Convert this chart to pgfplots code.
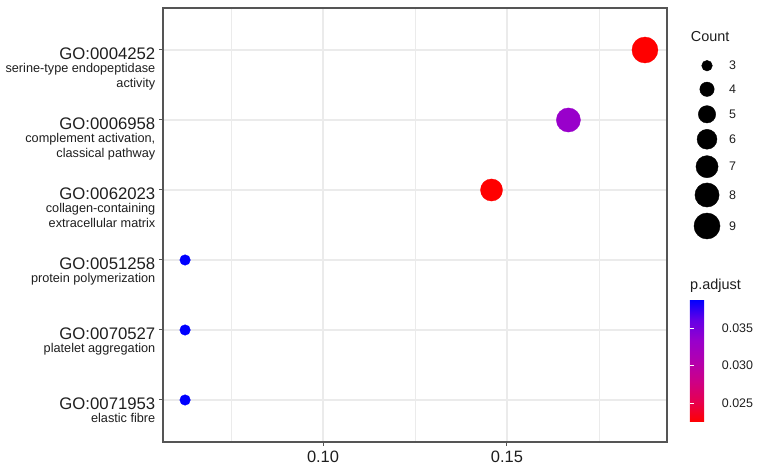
\documentclass[border=0pt]{standalone}
\usepackage{fontspec}
\setmainfont{Liberation Sans}
\usepackage{pgfplots}
\usepackage{pgfplotstable}
\pgfplotsset{compat=1.18}
\definecolor{bordergray}{RGB}{85,85,85}
\definecolor{gridgray}{RGB}{235,235,235}
\definecolor{txt}{RGB}{30,30,30}
\newcommand{\idf}{\fontsize{16.8}{16.8}\selectfont}
\tikzset{lab/.style={anchor=west, inner sep=0pt, font=\fontsize{12.5}{12.5}\selectfont, text=txt}}
\pgfplotstableread{
y x count padj
6 0.1875 9 0.0225
5 0.1667 8 0.0333
4 0.1458 7 0.0225
3 0.0625 3 0.0388
2 0.0625 3 0.0388
1 0.0625 3 0.0388
}\godata
\pgfplotstableread{
x y count
707 402.3 3
707 378.7 4
707 353.7 5
707 328.7 6
707 301.3 7
707 273.0 8
707 242.0 9
}\sizekey
\begin{document}
\begin{tikzpicture}
\useasboundingbox (0,0) rectangle (765bp,468bp);
\begin{axis}[
  at={(163bp,26bp)}, anchor=south west,
  width=504bp, height=434bp, scale only axis,
  xmin=0.0565, xmax=0.1935, ymin=0.4, ymax=6.6,
  xtick={0.10,0.15}, minor xtick={0.075,0.125,0.175},
  ytick={1,2,3,4,5,6},
  yticklabels={
    {{\idf GO:0071953}\\[-2.5pt]elastic fibre},
    {{\idf GO:0070527}\\[-2.5pt]platelet aggregation},
    {{\idf GO:0051258}\\[-2.5pt]protein polymerization},
    {{\idf GO:0062023}\\[-2.5pt]collagen-containing\\extracellular matrix},
    {{\idf GO:0006958}\\[-2.5pt]complement activation,\\classical pathway},
    {{\idf GO:0004252}\\[-2.5pt]serine-type endopeptidase\\activity}},
  yticklabel style={font=\fontsize{12.75}{15.5}\selectfont, align=right, anchor=north east, inner sep=0pt, yshift=2.8bp, xshift=-4bp, text=txt},
  xticklabel style={font=\fontsize{16.5}{16.5}\selectfont, anchor=north, inner sep=0pt, yshift=-5bp, text=txt,
    /pgf/number format/.cd, fixed, fixed zerofill, precision=2, assume math mode=true},
  tick align=outside, tick pos=left,
  major tick length=3.5bp, minor tick length=0pt,
  tick style={bordergray, line width=1bp},
  grid=both,
  major grid style={gridgray, line width=1.1bp},
  minor grid style={gridgray, line width=0.55bp},
  axis line style={bordergray, line width=1.1bp},
  colormap={padj}{rgb255=(255,0,0) rgb255=(230,0,80) rgb255=(205,0,135) rgb255=(178,0,175) rgb255=(152,0,204) rgb255=(100,0,230) rgb255=(0,0,255)},
  point meta min=0.0225, point meta max=0.0388,
  colorbar,
  colorbar style={
    at={(1.0456,0.0461)}, anchor=south west,
    width=24bp, height=122.5bp,
    axis line style={draw=none},
    axis on top,
    ytick={0.025,0.030,0.035},
    scaled y ticks=false,
    tick align=inside, ytick pos=both, yticklabel pos=right,
    major tick length=4.5bp,
    major tick style={white, line width=0.9bp},
    yticklabel style={font=\fontsize{12.5}{12.5}\selectfont, anchor=west, inner sep=0pt, xshift=7.7bp, text=txt,
      /pgf/number format/.cd, fixed, fixed zerofill, precision=3, assume math mode=true},
  },
]
\addplot[scatter, only marks, mark=*,
  point meta=explicit,
  scatter/use mapped color={draw=mapped color, fill=mapped color, line width=0.3pt},
  visualization depends on={sqrt(114+95*(\thisrow{count}-3))/2 \as \rad},
  scatter/@pre marker code/.append style={/tikz/mark size=\rad}]
  table[x=x, y=y, meta=padj] {\godata};
\end{axis}
\begin{axis}[at={(0,0)}, anchor=south west, width=765bp, height=468bp, scale only axis,
  hide axis, clip=false, xmin=0, xmax=765, ymin=0, ymax=468]
\addplot[scatter, only marks, mark=*,
  point meta=explicit,
  scatter/use mapped color={draw=black, fill=black},
  visualization depends on={sqrt(114+95*(\thisrow{count}-3))/2 \as \rad},
  scatter/@pre marker code/.append style={/tikz/mark size=\rad}]
  table[x=x, y=y, meta=count] {\sizekey};
\node[lab] at (axis cs:729,402.3) {3};
\node[lab] at (axis cs:729,378.7) {4};
\node[lab] at (axis cs:729,353.7) {5};
\node[lab] at (axis cs:729,328.7) {6};
\node[lab] at (axis cs:729,301.3) {7};
\node[lab] at (axis cs:729,273.0) {8};
\node[lab] at (axis cs:729,242.0) {9};
\node[anchor=base west, inner sep=0pt, font=\fontsize{14.5}{14.5}\selectfont, text=txt] at (axis cs:690.7,426.3) {Count};
\node[anchor=base west, inner sep=0pt, font=\fontsize{14.5}{14.5}\selectfont, text=txt] at (axis cs:690,178.7) {p.adjust};
\end{axis}
\end{tikzpicture}
\end{document}
